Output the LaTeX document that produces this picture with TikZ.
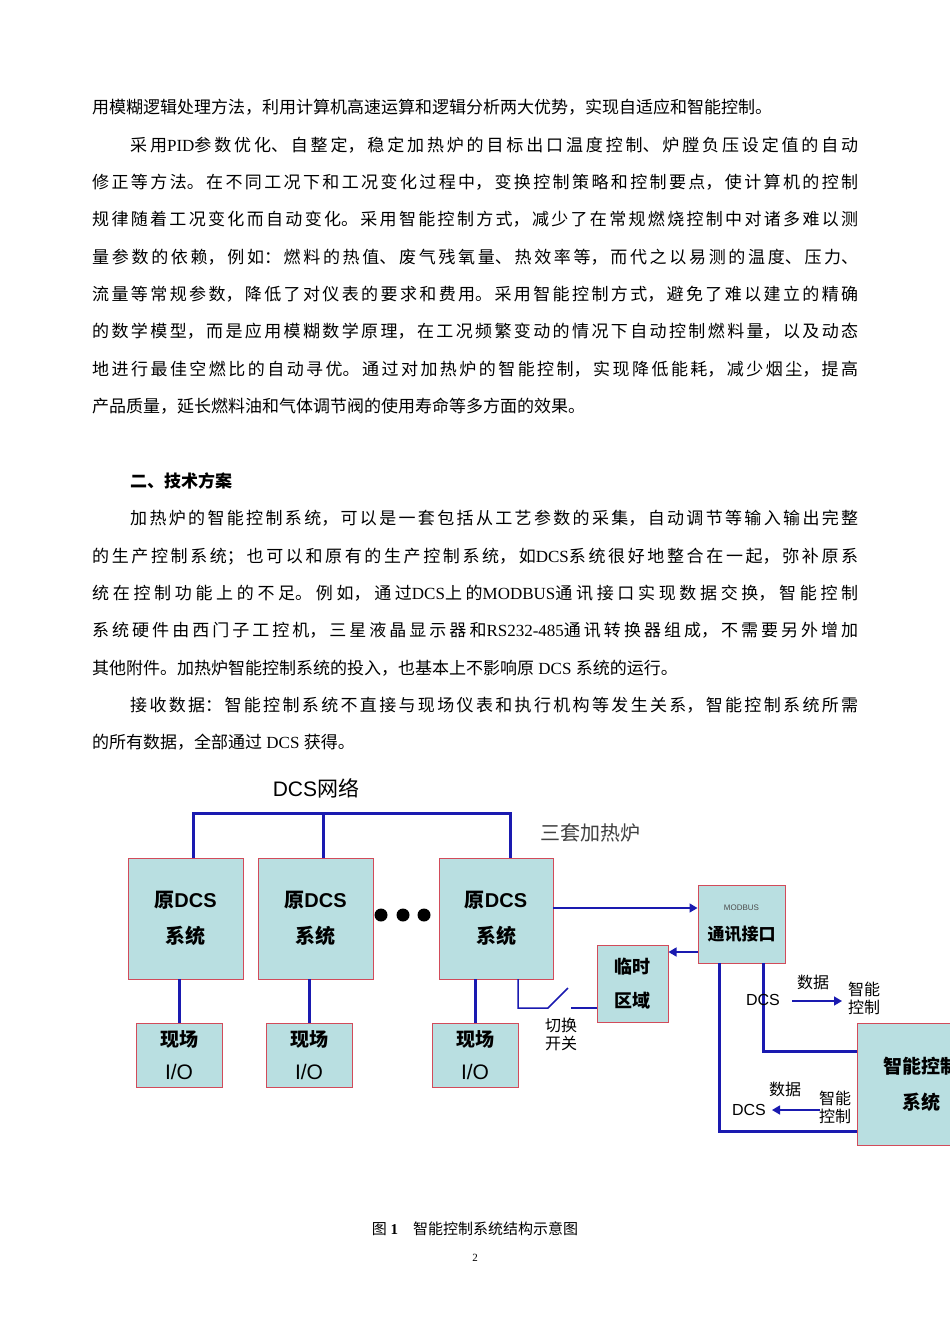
\documentclass[tikz,border=0pt]{standalone}
\usetikzlibrary{arrows.meta}
\usepackage{fontspec}
\setmainfont{Liberation Serif}
\setsansfont{Liberation Sans}
\newfontfamily\cjk{Noto Sans CJK SC}
\XeTeXlinebreaklocale "zh"
\XeTeXlinebreakskip=0pt plus 4pt
\newcommand\jl[2]{\parbox[b]{#1pt}{\parfillskip=0pt\parindent=0pt\rightskip=0pt\emergencystretch=50pt\hbadness=10000 #2\par}}
\definecolor{boxfill}{HTML}{B9DFE1}
\definecolor{boxedge}{HTML}{D24B5A}
\definecolor{wire}{HTML}{1A1AB0}
\begin{document}
\begin{tikzpicture}[x=1pt,y=-1pt,
  ln/.style={anchor=base west,inner sep=0,font=\cjk\fontsize{17}{17}\selectfont},
  bx/.style={draw=boxedge,fill=boxfill,line width=1pt,inner sep=0,align=center},
  bt/.style={font=\cjk\bfseries\fontsize{20}{36}\selectfont},
  lab/.style={font=\sffamily\fontsize{18}{20}\selectfont,inner sep=0},
  clab/.style={font=\cjk\fontsize{16}{18}\selectfont,inner sep=0,align=center},
  w/.style={draw=wire,line width=3pt},
  wt/.style={draw=wire,line width=1.5pt},
  ar/.style={draw=wire,line width=1.5pt,-{Triangle[length=8pt,width=9pt]}}]
\useasboundingbox (0,0) rectangle (950,1344);
\fill[white] (0,0) rectangle (950,1344);
% body text
\node[ln] (l1) at (92,113) {用模糊逻辑处理方法，利用计算机高速运算和逻辑分析两大优势，实现自适应和智能控制。};
\node[ln] (l2) at (130,151) {\jl{728}{采用{\rmfamily PID}参数优化、自整定，稳定加热炉的目标出口温度控制、炉膛负压设定值的自动}};
\node[ln] (l3) at (92,188) {\jl{766}{修正等方法。在不同工况下和工况变化过程中，变换控制策略和控制要点，使计算机的控制}};
\node[ln] (l4) at (92,225) {\jl{766}{规律随着工况变化而自动变化。采用智能控制方式，减少了在常规燃烧控制中对诸多难以测}};
\node[ln] (l5) at (92,263) {\jl{766}{量参数的依赖，例如：燃料的热值、废气残氧量、热效率等，而代之以易测的温度、压力、}};
\node[ln] (l6) at (92,300) {\jl{766}{流量等常规参数，降低了对仪表的要求和费用。采用智能控制方式，避免了难以建立的精确}};
\node[ln] (l7) at (92,337) {\jl{766}{的数学模型，而是应用模糊数学原理，在工况频繁变动的情况下自动控制燃料量，以及动态}};
\node[ln] (l8) at (92,375) {\jl{766}{地进行最佳空燃比的自动寻优。通过对加热炉的智能控制，实现降低能耗，减少烟尘，提高}};
\node[ln] (l9) at (92,412) {产品质量，延长燃料油和气体调节阀的使用寿命等多方面的效果。};
\node[ln,font=\cjk\bfseries\fontsize{17}{17}\selectfont] (h2) at (130,487) {二、技术方案};
\node[ln] (m1) at (130,524) {\jl{728}{加热炉的智能控制系统，可以是一套包括从工艺参数的采集，自动调节等输入输出完整}};
\node[ln] (m2) at (92,562) {\jl{766}{的生产控制系统；也可以和原有的生产控制系统，如{\rmfamily DCS}系统很好地整合在一起，弥补原系}};
\node[ln] (m3) at (92,599) {\jl{766}{统在控制功能上的不足。例如，通过{\rmfamily DCS}上的{\rmfamily MODBUS}通讯接口实现数据交换，智能控制}};
\node[ln] (m4) at (92,636) {\jl{766}{系统硬件由西门子工控机，三星液晶显示器和{\rmfamily RS232-485}通讯转换器组成，不需要另外增加}};
\node[ln] (m5) at (92,674) {其他附件。加热炉智能控制系统的投入，也基本上不影响原{\rmfamily\ DCS\ }系统的运行。};
\node[ln] (m6) at (130,711) {\jl{728}{接收数据：智能控制系统不直接与现场仪表和执行机构等发生关系，智能控制系统所需}};
\node[ln] (m7) at (92,748) {的所有数据，全部通过{\rmfamily\ DCS\ }获得。};
% diagram
\node[font=\sffamily\fontsize{21}{22}\selectfont,inner sep=0] (net) at (316,788) {DCS{\cjk 网络}};
\node[font=\cjk\fontsize{20}{22}\selectfont,inner sep=0,text=black!75] (three) at (590,833) {三套加热炉};
\node[bx,minimum width=115pt,minimum height=121pt] (d1) at (185.5,918.5) {};
\node[bx,minimum width=115pt,minimum height=121pt] (d2) at (315.5,918.5) {};
\node[bx,minimum width=114pt,minimum height=121pt] (d3) at (496,918.5) {};
\foreach \n in {d1,d2,d3}{
  \node[bt,align=center] at (\n.center) {原{\sffamily DCS}\\系统};}
\foreach \x/\n in {381/a,403/b,424/c}{\fill (\x,915) circle (6.5pt);}
\node[bx,minimum width=86pt,minimum height=64pt] (io1) at (179,1055) {};
\node[bx,minimum width=86pt,minimum height=64pt] (io2) at (309,1055) {};
\node[bx,minimum width=86pt,minimum height=64pt] (io3) at (475,1055) {};
\foreach \n in {io1,io2,io3}{
  \node[bt,align=center,font=\cjk\bfseries\fontsize{19}{33}\selectfont] at (\n.center) {现场\\{\sffamily\mdseries\fontsize{21}{22}\selectfont I/O}};}
\node[bx,minimum width=87pt,minimum height=78pt] (mb) at (741.5,924) {};
\node[font=\sffamily\fontsize{8}{9}\selectfont,text=black!70] at (741.5,908) {MODBUS};
\node[bt,font=\cjk\bfseries\fontsize{17}{20}\selectfont] at (741.5,934) {通讯接口};
\node[bx,minimum width=71pt,minimum height=77pt] (tmp) at (632.5,983.5) {};
\node[bt,align=center,font=\cjk\bfseries\fontsize{18}{34}\selectfont] at (tmp) {临时\\区域};
\node[bx,minimum width=128pt,minimum height=122pt] (sm) at (921,1084) {};
\node[bt,align=center,font=\cjk\bfseries\fontsize{19}{36}\selectfont] at (sm) {智能控制\\系统};
% wires
\draw[w] (d1.north -| 193,0) |- (510,813) -- (d3.north -| 510,0);
\draw[w] (323,813) -- (323,858);
\draw[w] (179,979) -- (io1.north);
\draw[w] (309,979) -- (io2.north);
\draw[w] (475,979) -- (io3.north);
\draw[ar] (553,908) -- (mb.west |- 0,908);
\draw[ar] (mb.west |- 0,952) -- (tmp.east |- 0,952);
\coordinate (sw1) at (548,1008);
\coordinate (sw2) at (568,988);
\coordinate (sw3) at (571,1008);
\draw[wt] (518,979) |- (sw1) -- (sw2);
\draw[wt] (sw3) -- (tmp.west |- sw3);
\node[clab] (swl) at (561,1034) {切换\\开关};
\draw[w] (719,963) |- (sm.west |- 0,1131);
\draw[w] (763,963) |- (sm.west |- 0,1051);
\node[clab] (dat1) at (813,982) {数据};
\node[clab] (ctl1) at (864,998) {智能\\控制};
\node[lab,font=\sffamily\fontsize{16}{18}\selectfont] (dcs1) at (763,1000) {DCS};
\draw[ar] (792,1001) -- (842,1001);
\node[clab] (dat2) at (785,1089) {数据};
\node[clab] (ctl2) at (835,1107) {智能\\控制};
\node[lab,font=\sffamily\fontsize{16}{18}\selectfont] (dcs2) at (749,1110) {DCS};
\draw[ar] (820,1110) -- (772,1110);
% caption
\node[inner sep=0,font=\cjk\fontsize{15}{16}\selectfont] (cap) at (475,1229) {图{\rmfamily\bfseries\ 1}\quad 智能控制系统结构示意图};
\node[inner sep=0,font=\rmfamily\fontsize{11}{12}\selectfont] (pg) at (475,1258) {2};
\end{tikzpicture}
\end{document}
